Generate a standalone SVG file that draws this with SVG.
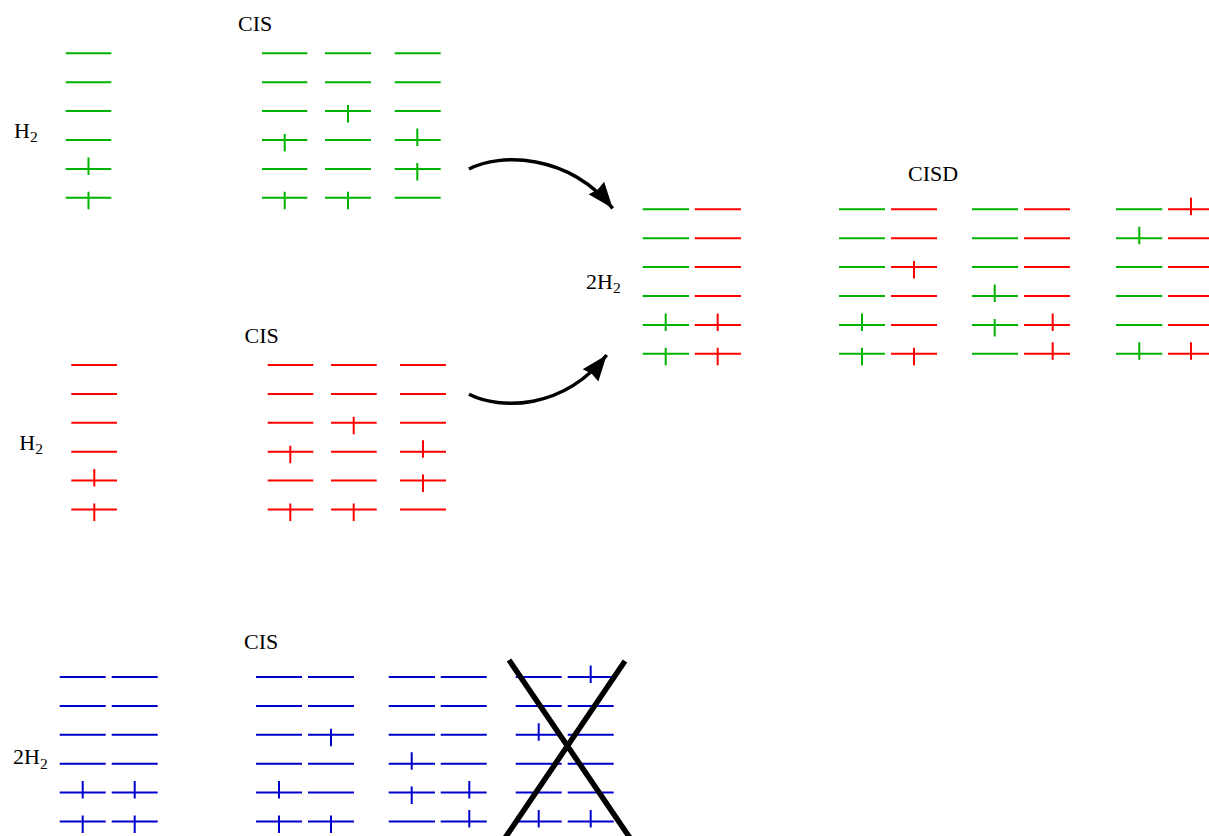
<svg xmlns="http://www.w3.org/2000/svg" width="1209" height="836" viewBox="0 0 1209 836">
<style>
.g{stroke:#00b300;stroke-width:2;fill:none}
.r{stroke:#ff0000;stroke-width:2;fill:none}
.b{stroke:#0000cc;stroke-width:2;fill:none}
text{font-family:"Liberation Serif","Times New Roman",serif;font-size:22px;fill:#000}
.sub{font-size:15.5px}
.arr{stroke:#000;stroke-width:3.5;fill:none}
.cross{stroke:#000;stroke-width:5.5;fill:none}
</style>
<defs>
<marker id="ah" markerUnits="userSpaceOnUse" viewBox="-28 -12 30 24" markerWidth="30" markerHeight="24" refX="0" refY="0" orient="auto">
<path d="M0,0 L-26,-10 L-24,0 L-26,10 Z" fill="#000"/>
</marker>
</defs>
<rect width="1209" height="836" fill="#fff"/>

<g id="h2-green">
<text x="14" y="137.5">H<tspan class="sub" dy="4.5">2</tspan></text>
<path class="g" d="M65.7 53.3H111.3M65.7 82.2H111.3M65.7 111.1H111.3M65.7 140H111.3M65.7 168.9H111.3M65.7 197.8H111.3M88.5 157.4V174.9M88.5 191.8V209.3"/>
</g>

<g id="cis-green">
<text x="238" y="30.5">CIS</text>
<path class="g" d="M262 53.3H307.3M262 82.2H307.3M262 111.1H307.3M262 140H307.3M262 168.9H307.3M262 197.8H307.3M284.7 134V151.5M284.7 191.8V209.3"/>
<path class="g" d="M325 53.3H371M325 82.2H371M325 111.1H371M325 140H371M325 168.9H371M325 197.8H371M348 105.1V122.6M348 191.8V209.3"/>
<path class="g" d="M394.7 53.3H440.7M394.7 82.2H440.7M394.7 111.1H440.7M394.7 140H440.7M394.7 168.9H440.7M394.7 197.8H440.7M417.3 128.5V146M417.3 162.9V180.4"/>
</g>

<g id="h2-red">
<text x="19.3" y="449.5">H<tspan class="sub" dy="4.5">2</tspan></text>
<path class="r" d="M71.3 365H117M71.3 393.9H117M71.3 422.8H117M71.3 451.7H117M71.3 480.6H117M71.3 509.5H117M94.3 469.1V486.6M94.3 503.5V521"/>
</g>

<g id="cis-red">
<text x="244.5" y="342.5">CIS</text>
<path class="r" d="M267.7 365H313.3M267.7 393.9H313.3M267.7 422.8H313.3M267.7 451.7H313.3M267.7 480.6H313.3M267.7 509.5H313.3M290.3 445.7V463.2M290.3 503.5V521"/>
<path class="r" d="M331 365H376.7M331 393.9H376.7M331 422.8H376.7M331 451.7H376.7M331 480.6H376.7M331 509.5H376.7M353.7 416.8V434.3M353.7 503.5V521"/>
<path class="r" d="M400 365H446M400 393.9H446M400 422.8H446M400 451.7H446M400 480.6H446M400 509.5H446M423 440.2V457.7M423 474.6V492.1"/>
</g>

<g id="h2x2-mixed">
<text x="586" y="288.7">2H<tspan class="sub" dy="4.5">2</tspan></text>
<path class="g" d="M642.7 209.3H689M642.7 238.2H689M642.7 267.1H689M642.7 296H689M642.7 324.9H689M642.7 353.8H689M665.7 313.4V330.9M665.7 347.8V365.3"/>
<path class="r" d="M694.7 209.3H741M694.7 238.2H741M694.7 267.1H741M694.7 296H741M694.7 324.9H741M694.7 353.8H741M717.7 313.4V330.9M717.7 347.8V365.3"/>
</g>

<g id="cisd">
<text x="908" y="180.5">CISD</text>
<path class="g" d="M839 209.3H885M839 238.2H885M839 267.1H885M839 296H885M839 324.9H885M839 353.8H885M862 313.4V330.9M862 347.8V365.3"/>
<path class="r" d="M891 209.3H937M891 238.2H937M891 267.1H937M891 296H937M891 324.9H937M891 353.8H937M914 261.1V278.6M914 347.8V365.3"/>
<path class="g" d="M972 209.3H1018M972 238.2H1018M972 267.1H1018M972 296H1018M972 324.9H1018M972 353.8H1018M994.7 284.5V302M994.7 318.9V336.4"/>
<path class="r" d="M1024 209.3H1070M1024 238.2H1070M1024 267.1H1070M1024 296H1070M1024 324.9H1070M1024 353.8H1070M1052.7 313.4V330.9M1052.7 342.3V359.8"/>
<path class="g" d="M1116 209.3H1162.3M1116 238.2H1162.3M1116 267.1H1162.3M1116 296H1162.3M1116 324.9H1162.3M1116 353.8H1162.3M1139.3 226.7V244.2M1139.3 342.3V359.8"/>
<path class="r" d="M1168 209.3H1214M1168 238.2H1214M1168 267.1H1214M1168 296H1214M1168 324.9H1214M1168 353.8H1214M1191 197.8V215.3M1191 342.3V359.8"/>
</g>

<g id="h2x2-blue">
<text x="13" y="764">2H<tspan class="sub" dy="4.5">2</tspan></text>
<path class="b" d="M59.7 677H105.7M59.7 705.9H105.7M59.7 734.8H105.7M59.7 763.7H105.7M59.7 792.6H105.7M59.7 821.5H105.7M82.7 781.1V798.6M82.7 815.5V833"/>
<path class="b" d="M111.7 677H157.7M111.7 705.9H157.7M111.7 734.8H157.7M111.7 763.7H157.7M111.7 792.6H157.7M111.7 821.5H157.7M134.7 781.1V798.6M134.7 815.5V833"/>
</g>

<g id="cis-blue">
<text x="244" y="649">CIS</text>
<path class="b" d="M256 677H302M256 705.9H302M256 734.8H302M256 763.7H302M256 792.6H302M256 821.5H302M279 781.1V798.6M279 815.5V833"/>
<path class="b" d="M308 677H354M308 705.9H354M308 734.8H354M308 763.7H354M308 792.6H354M308 821.5H354M331 728.8V746.3M331 815.5V833"/>
<path class="b" d="M388.7 677H435M388.7 705.9H435M388.7 734.8H435M388.7 763.7H435M388.7 792.6H435M388.7 821.5H435M411.7 752.2V769.7M411.7 786.6V804.1"/>
<path class="b" d="M440.7 677H486.7M440.7 705.9H486.7M440.7 734.8H486.7M440.7 763.7H486.7M440.7 792.6H486.7M440.7 821.5H486.7M469.3 781.1V798.6M469.3 810V827.5"/>
</g>

<g id="cis-blue-excluded">
<path class="b" d="M515.7 677H561.7M515.7 705.9H561.7M515.7 734.8H561.7M515.7 763.7H561.7M515.7 792.6H561.7M515.7 821.5H561.7M538.7 723.3V740.8M538.7 810V827.5"/>
<path class="b" d="M567.7 677H613.7M567.7 705.9H613.7M567.7 734.8H613.7M567.7 763.7H613.7M567.7 792.6H613.7M567.7 821.5H613.7M590.7 665.5V683M590.7 810V827.5"/>
<path class="cross" d="M509 660L630 838M625 661L505 838"/>
</g>

<g id="connectors">
<path class="arr" d="M469 169C500 153 568 153 612.7 208.3" marker-end="url(#ah)"/>
<path class="arr" d="M469 394.3C500 410 563 410 606.7 355" marker-end="url(#ah)"/>
</g>
</svg>
